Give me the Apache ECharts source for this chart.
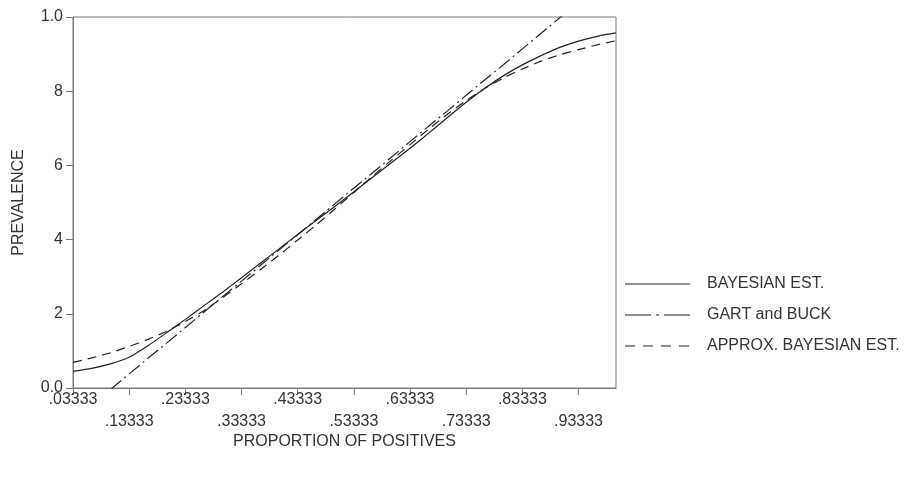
<!DOCTYPE html>
<html>
<head>
<meta charset="utf-8">
<script src="https://cdn.jsdelivr.net/npm/echarts@6/dist/echarts.min.js"></script>
<style>
html,body{margin:0;padding:0;background:#fff;}
#chart{width:905px;height:479px;}
</style>
</head>
<body>
<div id="chart"></div>
<script>
// Proportion of positives (k/30)
const proportions = [0.03333,0.06667,0.1,0.13333,0.16667,0.2,0.23333,0.26667,0.3,0.33333,
  0.36667,0.4,0.43333,0.46667,0.5,0.53333,0.56667,0.6,0.63333,0.66667,
  0.7,0.73333,0.76667,0.8,0.83333,0.86667,0.9,0.93333,0.96667,1.0];

const bayesian = [0.045,0.053,0.065,0.083,0.114,0.149,0.185,0.222,0.259,0.297,
  0.336,0.375,0.414,0.452,0.490,0.529,0.568,0.607,0.646,0.687,
  0.729,0.770,0.808,0.842,0.871,0.896,0.918,0.935,0.948,0.957];

const approxBayesian = [0.069,0.081,0.095,0.112,0.131,0.153,0.179,0.209,0.244,0.281,
  0.319,0.358,0.399,0.440,0.483,0.527,0.571,0.614,0.656,0.698,
  0.738,0.775,0.808,0.836,0.860,0.881,0.898,0.912,0.925,0.936];

// Gart and Buck (starts at k=3, ends past the top)
const gartProportions = [0.1,0.13333,0.16667,0.2,0.23333,0.26667,0.3,0.33333,0.36667,0.4,
  0.43333,0.46667,0.5,0.53333,0.56667,0.6,0.63333,0.66667,0.7,0.73333,
  0.76667,0.8,0.83333,0.86667,0.9,0.93333];
const gartBuck = [-0.004,0.038,0.080,0.121,0.163,0.205,0.247,0.288,0.330,0.372,
  0.413,0.455,0.497,0.539,0.580,0.622,0.664,0.706,0.747,0.789,
  0.831,0.872,0.914,0.956,0.998,1.039];

const xTickValues = [0.03333,0.13333,0.23333,0.33333,0.43333,0.53333,0.63333,0.73333,0.83333,0.93333];
const xTickLabels = ['.03333','.13333','.23333','.33333','.43333','.53333','.63333','.73333','.83333','.93333'];
const yTickLabels = ['0.0','2','4','6','8','1.0'];

const seriesNames = ['BAYESIAN EST.','GART and BUCK','APPROX. BAYESIAN EST.'];

function pairs(xs, ys){ return xs.map((x,i)=>[x, ys[i]]); }

const FONT = 'Liberation Sans';
const TXT = '#333';
const AX = '#777';
const LINE = '#222';
const DASHES = ['solid', [14,4,2,4], [9,6]];
const LEGEND_DASHES = [null, [26,5,3,5], [10,8]];

const chart = echarts.init(document.getElementById('chart'), null, {renderer:'canvas'});

const legendGraphics = [];
const legendRows = [284, 315, 346];
seriesNames.forEach((n,i)=>{
  legendGraphics.push({
    type:'line', silent:true,
    shape:{x1:625,y1:legendRows[i],x2:690,y2:legendRows[i]},
    style:{stroke:LINE,lineWidth:1.2,lineDash:LEGEND_DASHES[i]}
  });
  legendGraphics.push({
    type:'text', silent:true, x:707, y:legendRows[i],
    style:{text:n,fill:TXT,font:'16px "Liberation Sans"',verticalAlign:'middle'}
  });
});

chart.setOption({
  animation:false,
  backgroundColor:'#fff',
  textStyle:{fontFamily:FONT},
  grid:{left:73,right:289,top:17,bottom:91,show:true,borderColor:AX,borderWidth:1,backgroundColor:'transparent'},
  xAxis:{
    type:'value', min:0.03333, max:1.0,
    name:'PROPORTION OF POSITIVES', nameLocation:'middle', nameGap:46, nameMoveOverlap:false,
    nameTextStyle:{fontSize:16,color:TXT,fontFamily:FONT},
    axisLine:{show:true,lineStyle:{color:AX,width:1}},
    axisTick:{show:true,length:7,customValues:xTickValues,lineStyle:{color:AX}},
    axisLabel:{
      customValues:xTickValues, fontSize:16, color:TXT, fontFamily:FONT, lineHeight:22, margin:1,
      showMinLabel:true, showMaxLabel:true,
      formatter:function(v){
        let idx = 0, best = 1e9;
        xTickValues.forEach((t,i)=>{ const d=Math.abs(t-v); if(d<best){best=d;idx=i;} });
        return idx % 2 ? '\n' + xTickLabels[idx] : xTickLabels[idx];
      }
    },
    splitLine:{show:false}
  },
  yAxis:{
    type:'value', min:0, max:1, interval:0.2,
    name:'PREVALENCE', nameLocation:'middle', nameGap:46, nameRotate:90, nameMoveOverlap:false,
    nameTextStyle:{fontSize:16,color:TXT,fontFamily:FONT},
    axisLine:{show:true,lineStyle:{color:AX,width:1}},
    axisTick:{show:true,length:7,lineStyle:{color:AX}},
    axisLabel:{fontSize:16,color:TXT,fontFamily:FONT,margin:10,padding:[0,0,5,0],
      formatter:function(v){ return yTickLabels[Math.round(v/0.2)]; }},
    splitLine:{show:false}
  },
  graphic:legendGraphics,
  series:seriesNames.map((n,i)=>({
    name:n, type:'line',
    data: i===0 ? pairs(proportions,bayesian) : (i===1 ? pairs(gartProportions,gartBuck) : pairs(proportions,approxBayesian)),
    showSymbol:false, symbol:'none', clip:true, smooth: i===1 ? false : 0.2,
    lineStyle:{color:LINE,width:1.2,type:DASHES[i]}, itemStyle:{color:LINE}
  }))
});
</script>
</body>
</html>
